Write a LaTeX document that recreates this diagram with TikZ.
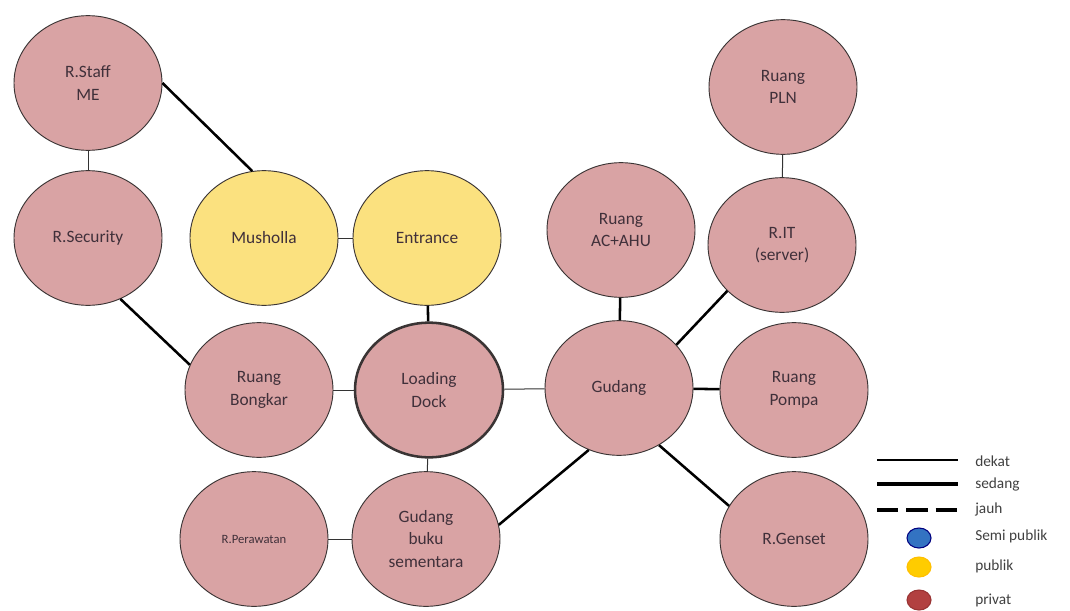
\documentclass[tikz,border=0pt]{standalone}
\usepackage{fontspec}
\setmainfont{Carlito}
\usetikzlibrary{shapes.geometric}
\usepackage{xcolor}
\definecolor{prvFill}{HTML}{D9A3A4}
\definecolor{pubFill}{HTML}{FBE17F}
\definecolor{ovLine}{HTML}{3A3434}
\definecolor{txtCol}{HTML}{40303A}
\def\figScale{0.75pt}
\def\ovW{111pt}
\def\ovH{101pt}
\def\fScale{\fontsize{13}{17}\selectfont}
\def\lineThin{(0.75pt)}
\def\lineThick{(1.9pt)}
\tikzset{prv/.style={ellipse,draw=ovLine,line width=0.7pt,fill=prvFill,minimum width=\ovW,minimum height=\ovH,inner sep=0,align=center,text=txtCol,font=\fScale}}
\tikzset{pub/.style={prv,fill=pubFill}}
\tikzset{dkt/.style={black!80,line width=\lineThin}}
\tikzset{sdg/.style={black,line width=\lineThick}}
\tikzset{lgd/.style={anchor=west,text=black!75,font=\fontsize{11.5}{13}\selectfont,inner sep=0}}
\tikzset{ldot/.style={ellipse,minimum width=18pt,minimum height=15pt,inner sep=0,line width=0.8pt}}

\begin{document}
\begin{tikzpicture}[x=\figScale,y=-\figScale]
\useasboundingbox[fill=white] (0,0) rectangle (1070,610);
% rooms
\node[prv] (staff) at (88,83) {R.Staff\\ME};
\node[prv] (sec) at (88,238) {R.Security};
\node[pub] (mush) at (264,238) {Musholla};
\node[pub] (ent) at (427,238) {Entrance};
\node[prv] (bong) at (259,390) {Ruang\\Bongkar};
\node[prv,line width=1.9pt] (ld) at (429,390) {Loading\\Dock};
\node[prv] (gud) at (619,388) {Gudang};
\node[prv] (ac) at (621,230) {Ruang\\AC+AHU};
\node[prv] (pln) at (783,87) {Ruang\\PLN};
\node[prv] (it) at (782,245) {R.IT\\(server)};
\node[prv] (pom) at (794,390) {Ruang\\Pompa};
\node[prv] (gen) at (794,539) {R.Genset};
\node[prv,font=\fontsize{9.5}{11}\selectfont] (raw) at (254,539) {R.Perawatan};
\node[prv] (buku) at (426,539) {Gudang\\buku\\sementara};
% links
\draw[dkt] (staff)--(sec);
\draw[sdg] (staff.east)--(mush.100);
\draw[sdg] (sec.-62)--(bong.160);
\draw[dkt] (mush)--(ent);
\draw[sdg] (ent)--(ld);
\draw[dkt] (bong)--(ld);
\draw[dkt] (ld)--(gud);
\draw[dkt] (ld)--(buku);
\draw[dkt] (raw)--(buku);
\draw[sdg] (buku.11)--(gud.-116);
\draw[sdg] (ac)--(gud);
\draw[dkt] (pln)--(it);
\draw[sdg] (it.-140)--(gud.37);
\draw[sdg] (gud)--(pom);
\draw[sdg] (gud.-55)--(gen.153);
% legend
\coordinate (l1a) at (877,460);\coordinate (l1b) at (958,460);
\coordinate (l2a) at (877,484);\coordinate (l2b) at (958,484);
\coordinate (l3a) at (877,510);\coordinate (l3b) at (958,510);
\draw[black,line width=0.9pt] (l1a)--(l1b);
\draw[black,line width=3.6pt] (l2a)--(l2b);
\draw[black,line width=3.6pt,dash pattern=on 16pt off 6pt] (l3a)--(l3b);
\node[lgd] (tdk) at (975,461) {dekat};
\node[lgd] (tsd) at (975,484) {sedang};
\node[lgd] (tjh) at (975,509) {jauh};
\node[lgd] (tsp) at (975,536) {Semi publik};
\node[lgd] (tpb) at (975,566) {publik};
\node[lgd] (tpr) at (975,600) {privat};
\node[ldot,fill=blue!55!cyan!70!black!80,draw=blue!50!black] (dsp) at (919,538) {};
\node[ldot,fill=orange!40!yellow,draw=orange!50!yellow] (dpb) at (919,567) {};
\node[ldot,fill=red!60!black!75,draw=red!50!black!80] (dpr) at (919,600) {};
\end{tikzpicture}
\end{document}
